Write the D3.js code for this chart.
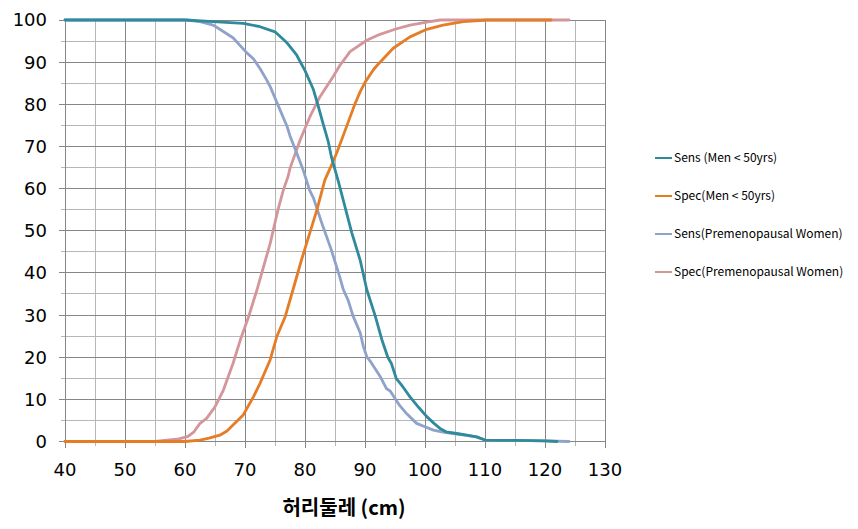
<!DOCTYPE html>
<html>
<head>
<meta charset="utf-8">
<script src="https://cdn.jsdelivr.net/npm/d3@7"></script>
<style>
  html, body { margin: 0; padding: 0; background: #ffffff; }
  svg { display: block; }
</style>
</head>
<body>
<svg id="chart" width="858" height="529"></svg>
<script>
// ---- Data ----
const seriesNames = [
  "Sens (Men < 50yrs)",
  "Spec(Men < 50yrs)",
  "Sens(Premenopausal Women)",
  "Spec(Premenopausal Women)"
];
const seriesColors = ["#2f8a9c", "#e57c26", "#8fa2c9", "#d4959b"];

const sensMenX = [40,60,64.7,69.7,72.5,75,77,78.6,80,81.4,82.2,83,83.9,84.4,85.6,86.7,87.8,89.2,90.3,91.7,92.8,93.8,94.4,95.2,96.3,97.5,99,100.3,101.5,102.5,103.5,105.3,107,108.6,110,115,120,122];
const sensMenY = [100,100,99.6,99.2,98.4,97.2,94.6,91.7,88,83.5,79.6,75.5,71,67.5,61.5,55.5,49.5,43,36,29.8,24.2,20,18.5,15,13,10.6,8,5.9,4.3,3.1,2.3,1.9,1.5,1.1,0.35,0.25,0.15,0];

const specMenX = [40,60,62.5,64,65.8,67,68,69.7,71.4,72.5,74.2,75.3,76.7,78,79.4,80.8,82,83.3,84.4,85.3,87,88.3,89.2,90,91.4,92,94.7,97.5,100.3,103,106.4,110.3,121];
const specMenY = [0,0,0.35,0.8,1.5,2.5,3.9,6.3,10.6,13.8,19.4,24.9,29.6,36,43,49.5,55,62,65.5,68.5,75,80,83,85.2,88.2,89.2,93.3,96,97.8,98.8,99.6,100,100];

const sensWomenX = [40,60.3,62.5,64.7,65.8,68,70.3,71.4,72.5,73.6,74.2,75.3,75.8,77,77.5,78.6,79.7,80.8,81.4,82.8,84.4,85.8,86.4,87.2,88,89.2,89.7,90.3,90.8,92.5,93.6,94.2,95.8,97,98.6,100,101.4,103,104.7,106.5,108.6,110,115,120,124];
const sensWomenY = [100,100,99.6,98.8,97.8,95.8,92.2,90.8,88.5,85.8,84.2,80.5,78.8,74.8,72.5,68.5,64.4,59.5,57.8,51.8,45.4,39,36,33.5,29.8,25.8,22.7,20.1,19.2,15.5,12.5,12,8.5,6.5,4.3,3.5,2.7,2.2,1.9,1.5,1.1,0.35,0.25,0.15,0];

const specWomenX = [40,55,57,59,60.5,61.5,62.5,63.6,65,66.4,68,69.2,70.6,72,72.8,74.2,75.5,76.4,77.2,77.5,79.2,80.8,82.5,84.7,85.8,87,87.5,90.3,92.5,95,97.5,100.3,102.5,124];
const specWomenY = [0,0,0.3,0.6,1.2,2.3,4.3,5.5,8.2,12.2,18.5,24,29.6,36,40,47,55,59.7,63,64.8,71.6,77,81.8,86.6,89.2,91.5,92.5,95.2,96.6,97.8,98.8,99.5,100,100];

const xTicks = [40,50,60,70,80,90,100,110,120,130];
const yTicks = [0,10,20,30,40,50,60,70,80,90,100];
const xTitle = "허리둘레 (cm)";

// ---- Chart ----
(function () {
const svg = d3.select("#chart");
const pl = 65, pr = 605, pt = 20, pb = 441.5;
const x = d3.scaleLinear().domain([40,130]).range([pl,pr]);
const y = d3.scaleLinear().domain([0,100]).range([pb,pt]);

const font = "'Noto Sans CJK KR', 'Noto Sans', sans-serif";
const tickFont = "'DejaVu Sans', 'Noto Sans', sans-serif";
const majorC = "#868686", minorC = "#b7b7b7";

const g = svg.append("g");
// minor grid
d3.range(45,131,10).forEach(v => {
  g.append("line").attr("x1", x(v)).attr("x2", x(v)).attr("y1", pt).attr("y2", pb + 4)
    .attr("stroke", minorC).attr("stroke-width", 1).attr("shape-rendering","crispEdges");
});
d3.range(5,100,10).forEach(v => {
  g.append("line").attr("x1", pl - 4).attr("x2", pr).attr("y1", y(v)).attr("y2", y(v))
    .attr("stroke", minorC).attr("stroke-width", 1).attr("shape-rendering","crispEdges");
});
// major grid
xTicks.forEach(v => {
  g.append("line").attr("x1", x(v)).attr("x2", x(v)).attr("y1", pt).attr("y2", pb + 6)
    .attr("stroke", majorC).attr("stroke-width", 1).attr("shape-rendering","crispEdges");
});
yTicks.forEach(v => {
  g.append("line").attr("x1", pl - 6).attr("x2", pr).attr("y1", y(v)).attr("y2", y(v))
    .attr("stroke", majorC).attr("stroke-width", 1).attr("shape-rendering","crispEdges");
});

// tick labels
svg.append("g").selectAll("text").data(yTicks).join("text")
  .attr("x", 47).attr("y", d => y(d)).attr("dy", "0.36em")
  .attr("text-anchor", "end").attr("font-family", tickFont).attr("font-size", 18).attr("fill", "#000")
  .text(d => d);
svg.append("g").selectAll("text").data(xTicks).join("text")
  .attr("x", d => x(d)).attr("y", 470).attr("dy", "0.36em")
  .attr("text-anchor", "middle").attr("font-family", tickFont).attr("font-size", 18).attr("fill", "#000")
  .text(d => d);

svg.append("text").attr("x", 344).attr("y", 508).attr("dy", "0.36em")
  .attr("text-anchor", "middle").attr("font-family", font).attr("font-size", 20)
  .attr("font-weight", "bold").attr("fill", "#000").text(xTitle);

// series
const seriesX = [sensMenX, specMenX, sensWomenX, specWomenX];
const seriesY = [sensMenY, specMenY, sensWomenY, specWomenY];
const line = d3.line().x(d => x(d[0])).y(d => y(d[1]));
const drawOrder = [3, 2, 1, 0];
drawOrder.forEach(i => {
  const pts = seriesX[i].map((v, k) => [v, seriesY[i][k]]);
  svg.append("path").datum(pts).attr("d", line)
    .attr("fill", "none").attr("stroke", seriesColors[i]).attr("stroke-width", 2.8)
    .attr("stroke-linejoin", "round").attr("stroke-linecap", "round");
});

// legend
const legY = [158, 196, 234, 272];
const leg = svg.append("g").selectAll("g").data(seriesNames).join("g")
  .attr("transform", (d, i) => `translate(655,${legY[i]})`);
leg.append("line").attr("x1", 0).attr("x2", 17).attr("y1", 0).attr("y2", 0)
  .attr("stroke", (d, i) => seriesColors[i]).attr("stroke-width", 2);
leg.append("text").attr("x", 19).attr("y", 0).attr("dy", "0.36em")
  .attr("font-family", font).attr("font-size", 12).attr("fill", "#000").text(d => d);
})();
</script>
</body>
</html>
